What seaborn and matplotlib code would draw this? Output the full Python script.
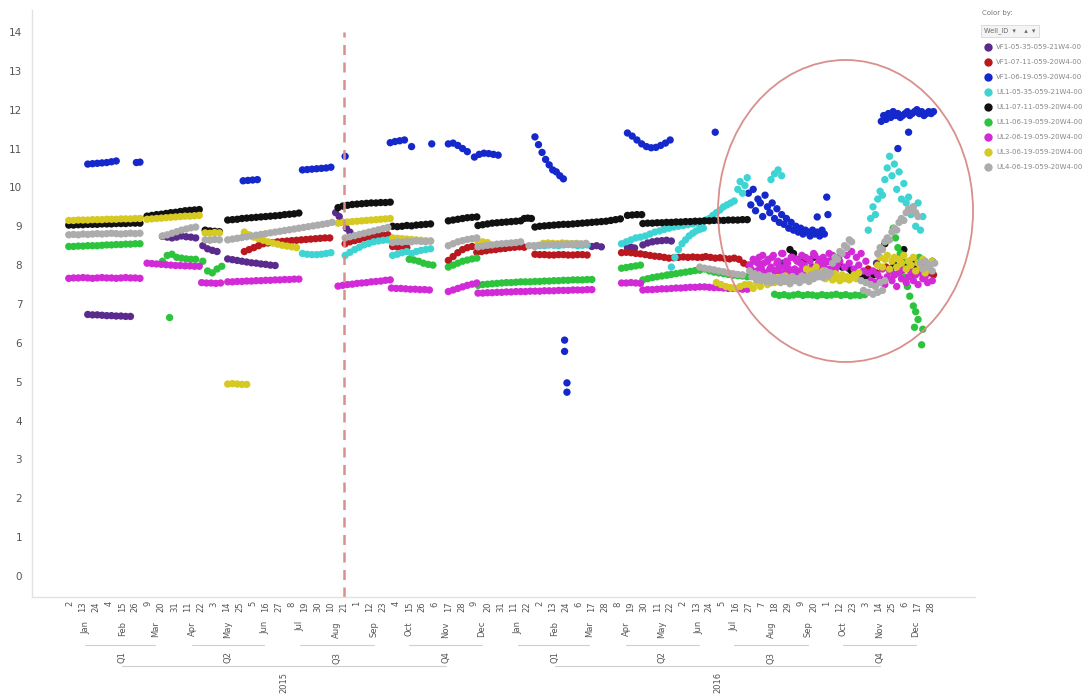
import pandas as pd
import matplotlib
matplotlib.use("Agg")
import matplotlib.pyplot as plt
import matplotlib.dates as mdates
from matplotlib.lines import Line2D
from matplotlib.patches import Ellipse, FancyBboxPatch
import seaborn as sns

# ---------------------------------------------------------------- wells
WELLS = [
    "VF1-05-35-059-21W4-00", "VF1-07-11-059-20W4-00", "VF1-06-19-059-20W4-00",
    "UL1-05-35-059-21W4-00", "UL1-07-11-059-20W4-00", "UL1-06-19-059-20W4-00",
    "UL2-06-19-059-20W4-00", "UL3-06-19-059-20W4-00", "UL4-06-19-059-20W4-00",
]
COLORS = ["#5a2a8c", "#b8181e", "#1428cc", "#3fd4d4", "#111111",
          "#2cc43c", "#d22ad6", "#d6c922", "#acacac"]

# Readings: runs of (first day, spacing in days, values) plus single points
VF1_05_RUNS = [
    ("2015-01-17", 4, [6.73, 6.72, 6.72, 6.71, 6.70, 6.70, 6.69, 6.69, 6.68, 6.68]),
    ("2015-03-21", 4, [8.74, 8.72, 8.70, 8.72, 8.75, 8.73, 8.72, 8.70]),
    ("2015-04-24", 4, [8.50, 8.42, 8.38, 8.35]),
    ("2015-05-15", 4, [8.16, 8.14, 8.12, 8.10, 8.08, 8.06, 8.05, 8.03, 8.02, 8.00, 7.99]),
    ("2015-08-14", 3, [9.35, 9.25, 9.10, 8.95, 8.85]),
    ("2016-03-17", 4, [8.48, 8.50, 8.47]),
    ("2016-04-16", 3, [8.45, 8.46, 8.44]),
    ("2016-04-29", 4, [8.52, 8.57, 8.60, 8.62, 8.63, 8.64, 8.62]),
]
VF1_05_POINTS = [("2016-08-25", 8.05), ("2016-09-06", 8.15), ("2016-09-19", 7.95),
                 ("2016-10-03", 8.10), ("2016-10-20", 7.90), ("2016-11-12", 8.05),
                 ("2016-11-26", 7.95), ("2016-12-10", 8.10), ("2016-12-22", 7.85)]

VF1_07_RUNS = [
    ("2015-05-29", 4, [8.35, 8.40, 8.45, 8.50, 8.55, 8.57, 8.58, 8.60, 8.61, 8.62,
                       8.63, 8.64, 8.65, 8.66, 8.67, 8.68, 8.69, 8.70, 8.70]),
    ("2015-08-22", 4, [8.55, 8.60, 8.63, 8.66, 8.70, 8.72, 8.74, 8.76, 8.77, 8.78]),
    ("2015-10-01", 4, [8.48, 8.47, 8.46, 8.45]),
    ("2015-11-17", 4, [8.12, 8.22, 8.32, 8.40, 8.45, 8.48]),
    ("2015-12-11", 4, [8.33, 8.35, 8.37, 8.39, 8.40, 8.42, 8.43, 8.45, 8.46, 8.47, 8.46]),
    ("2016-01-29", 4, [8.28, 8.27, 8.27, 8.26, 8.26, 8.27, 8.27, 8.26, 8.26, 8.27, 8.27, 8.26]),
    ("2016-04-11", 4, [8.32, 8.33, 8.32, 8.30, 8.29, 8.27, 8.25, 8.23, 8.22, 8.20,
                       8.18, 8.19, 8.20, 8.21, 8.20, 8.21, 8.20, 8.20]),
    ("2016-06-21", 4, [8.22, 8.20, 8.18, 8.19, 8.17, 8.16, 8.18, 8.15, 8.05, 8.00]),
]
VF1_07_POINTS = [("2016-11-05", 7.90), ("2016-11-12", 7.80), ("2016-11-20", 7.95),
                 ("2016-11-27", 7.75), ("2016-12-03", 7.85), ("2016-12-09", 7.90),
                 ("2016-12-14", 7.75), ("2016-12-18", 7.85), ("2016-12-22", 7.70),
                 ("2016-12-26", 7.80), ("2016-12-30", 7.75)]

VF1_06_RUNS = [
    ("2015-01-17", 4, [10.60, 10.61, 10.62, 10.63, 10.64, 10.66, 10.68]),
    ("2015-02-27", 3, [10.64, 10.65]),
    ("2015-05-28", 4, [10.17, 10.18, 10.19, 10.20]),
    ("2015-07-17", 4, [10.45, 10.46, 10.47, 10.48, 10.49, 10.50, 10.52]),
    ("2015-09-29", 4, [11.15, 11.18, 11.20, 11.22]),
    ("2015-11-17", 4, [11.12, 11.14, 11.08, 11.00, 10.92]),
    ("2015-12-09", 4, [10.78, 10.85, 10.88, 10.87, 10.85, 10.83]),
    ("2016-01-29", 3, [11.30, 11.10, 10.90, 10.72, 10.58, 10.45, 10.40, 10.30, 10.22]),
    ("2016-04-16", 4, [11.40, 11.32, 11.22, 11.12, 11.05, 11.02, 11.03, 11.08, 11.14, 11.22]),
    ("2016-07-27", 2, [9.85, 9.55, 9.95, 9.40, 9.70, 9.60, 9.25, 9.80, 9.50, 9.35, 9.60,
                       9.20, 9.45, 9.10, 9.30, 9.05, 9.20, 8.95, 9.10, 8.90, 9.00, 8.85,
                       8.95, 8.80, 8.90, 8.85, 8.75, 8.90, 8.80, 8.85, 8.75, 8.90, 8.80]),
    ("2016-11-16", 2, [11.70, 11.85, 11.75, 11.90, 11.80, 11.95, 11.85, 11.90, 11.80,
                       11.85, 11.90, 11.95, 11.85, 11.90, 11.95, 12.00, 11.90, 11.95,
                       11.85, 11.90, 11.95, 11.90, 11.95]),
]
VF1_06_POINTS = [("2015-08-22", 10.80), ("2015-10-17", 11.05), ("2015-11-03", 11.12),
                 ("2016-02-23", 6.07), ("2016-02-23", 5.78), ("2016-02-25", 4.97),
                 ("2016-02-25", 4.73), ("2016-06-29", 11.42), ("2016-09-23", 9.24),
                 ("2016-10-01", 9.75), ("2016-10-02", 9.30), ("2016-11-30", 11.00),
                 ("2016-12-09", 11.42)]

UL1_05_RUNS = [
    ("2015-07-17", 4, [8.30, 8.28, 8.27, 8.27, 8.28, 8.30, 8.32]),
    ("2015-08-22", 4, [8.25, 8.33, 8.40, 8.46, 8.52, 8.56, 8.60, 8.62, 8.64, 8.65]),
    ("2015-10-01", 4, [8.25, 8.28, 8.32, 8.35, 8.30, 8.35, 8.38, 8.40, 8.42]),
    ("2016-01-29", 4, [8.48, 8.50, 8.50, 8.52, 8.51, 8.50, 8.52, 8.53, 8.52, 8.50, 8.51, 8.52]),
    ("2016-04-11", 4, [8.55, 8.60, 8.65, 8.70, 8.72, 8.75, 8.80, 8.85, 8.88, 8.92,
                       8.95, 8.98, 9.00, 9.02, 9.04, 9.06, 9.08, 9.10]),
    ("2016-05-20", 3, [7.75, 7.95, 8.20, 8.40, 8.55, 8.65, 8.75, 8.82, 8.88, 8.92, 8.95]),
    ("2016-06-18", 3, [9.12, 9.16, 9.20, 9.28, 9.35, 9.42, 9.50, 9.55, 9.60, 9.65]),
    ("2016-11-05", 2, [8.90, 9.20, 9.50, 9.30, 9.70, 9.90, 9.80, 10.20, 10.50, 10.80,
                       10.30, 10.60, 9.95, 10.40, 9.70, 10.10, 9.60, 9.75, 9.30, 9.50,
                       9.00, 9.60, 8.90, 9.25]),
]
UL1_05_POINTS = [("2016-07-18", 9.95), ("2016-07-20", 10.15), ("2016-07-22", 9.85),
                 ("2016-07-24", 10.05), ("2016-07-26", 10.25), ("2016-08-15", 10.20),
                 ("2016-08-18", 10.35), ("2016-08-21", 10.45), ("2016-08-24", 10.30)]

UL1_07_RUNS = [
    ("2015-01-01", 4, [9.03, 9.03, 9.04, 9.04, 9.05, 9.05, 9.05, 9.06, 9.06, 9.06,
                       9.07, 9.07, 9.07, 9.08, 9.08, 9.08]),
    ("2015-03-08", 4, [9.26, 9.28, 9.30, 9.31, 9.33, 9.35, 9.36, 9.38, 9.40, 9.41, 9.42, 9.43]),
    ("2015-04-26", 4, [8.90, 8.88, 8.87, 8.86]),
    ("2015-05-15", 4, [9.16, 9.17, 9.18, 9.20, 9.21, 9.22, 9.23, 9.24, 9.25, 9.26,
                       9.27, 9.28, 9.30, 9.31, 9.32, 9.34]),
    ("2015-08-16", 4, [9.48, 9.52, 9.54, 9.56, 9.57, 9.58, 9.59, 9.60, 9.60, 9.61, 9.61, 9.62]),
    ("2015-10-01", 4, [9.00, 8.99, 9.00, 9.02, 9.01, 9.03, 9.04, 9.05, 9.06]),
    ("2015-11-17", 4, [9.14, 9.16, 9.18, 9.20, 9.22, 9.23, 9.24]),
    ("2015-12-12", 4, [9.02, 9.04, 9.06, 9.08, 9.09, 9.10, 9.11, 9.12, 9.13, 9.14]),
    ("2016-01-20", 3, [9.20, 9.21, 9.20]),
    ("2016-01-29", 4, [8.98, 9.00, 9.01, 9.02, 9.03, 9.04, 9.05, 9.05, 9.06, 9.07,
                       9.08, 9.09, 9.10, 9.11, 9.12, 9.13, 9.15, 9.17, 9.19]),
    ("2016-04-16", 4, [9.28, 9.29, 9.30, 9.30]),
    ("2016-04-29", 4, [9.07, 9.08, 9.08, 9.09, 9.09, 9.10, 9.10, 9.11, 9.11, 9.12, 9.12,
                       9.13, 9.13, 9.14, 9.14, 9.15, 9.15, 9.15, 9.16, 9.16, 9.16, 9.17, 9.17]),
]
UL1_07_POINTS = [("2016-08-31", 8.40), ("2016-09-03", 8.30), ("2016-09-12", 8.10),
                 ("2016-09-20", 8.20), ("2016-09-28", 8.00), ("2016-10-06", 7.90),
                 ("2016-10-14", 7.95), ("2016-10-22", 7.85), ("2016-10-30", 7.75),
                 ("2016-11-03", 7.70), ("2016-11-07", 7.80), ("2016-11-10", 7.75),
                 ("2016-11-19", 8.55), ("2016-11-23", 7.90), ("2016-11-27", 8.00),
                 ("2016-12-05", 8.40), ("2016-12-07", 7.95), ("2016-12-11", 8.10),
                 ("2016-12-14", 7.90), ("2016-12-17", 8.05), ("2016-12-20", 7.85),
                 ("2016-12-23", 8.00), ("2016-12-26", 7.90), ("2016-12-29", 8.10)]

UL1_06_RUNS = [
    ("2015-01-01", 4, [8.48, 8.48, 8.49, 8.49, 8.50, 8.50, 8.50, 8.51, 8.52, 8.52,
                       8.53, 8.53, 8.54, 8.54, 8.55, 8.55]),
    ("2015-03-21", 4, [8.10, 8.25, 8.28, 8.20, 8.18, 8.16, 8.15, 8.15]),
    ("2015-04-24", 4, [8.10, 7.85, 7.80, 7.90, 7.97]),
    ("2015-10-15", 4, [8.15, 8.13, 8.10, 8.05, 8.02, 8.00]),
    ("2015-11-17", 4, [7.95, 8.00, 8.05, 8.10, 8.13, 8.16, 8.18]),
    ("2015-12-12", 4, [7.48, 7.50, 7.51, 7.52, 7.53, 7.54, 7.55, 7.55, 7.56, 7.57, 7.57,
                       7.57, 7.58, 7.58, 7.59, 7.59, 7.60, 7.60, 7.61, 7.61, 7.62, 7.62,
                       7.62, 7.63, 7.63]),
    ("2016-04-11", 4, [7.92, 7.94, 7.96, 7.98, 8.00]),
    ("2016-04-29", 4, [7.62, 7.65, 7.68, 7.70, 7.72, 7.74, 7.76, 7.78, 7.80, 7.82,
                       7.84, 7.86, 7.87]),
    ("2016-06-20", 4, [7.90, 7.85, 7.82, 7.80, 7.78, 7.76, 7.74, 7.73, 7.72, 7.70]),
    ("2016-08-18", 4, [7.25, 7.22, 7.24, 7.21, 7.23, 7.25, 7.22, 7.24, 7.23, 7.21,
                       7.24, 7.22, 7.23, 7.25, 7.22, 7.24, 7.21, 7.23, 7.22, 7.24]),
]
UL1_06_POINTS = [("2015-03-27", 6.65),
                 ("2016-11-26", 8.95), ("2016-11-28", 8.70), ("2016-11-30", 8.45),
                 ("2016-12-02", 8.30), ("2016-12-04", 8.10), ("2016-12-05", 7.70),
                 ("2016-12-08", 7.45), ("2016-12-10", 7.20), ("2016-12-13", 6.95),
                 ("2016-12-15", 6.80), ("2016-12-17", 6.60), ("2016-12-14", 6.40),
                 ("2016-12-21", 6.35), ("2016-12-20", 5.95), ("2016-12-10", 8.05),
                 ("2016-12-18", 8.20), ("2016-12-25", 8.00)]

UL2_RUNS = [
    ("2015-01-01", 4, [7.66, 7.67, 7.67, 7.68, 7.67, 7.66, 7.67, 7.68, 7.67, 7.67,
                       7.66, 7.67, 7.68, 7.67, 7.67, 7.66]),
    ("2015-03-08", 4, [8.05, 8.04, 8.03, 8.02, 8.01, 8.00, 7.99, 7.99, 7.98, 7.98, 7.97, 7.97]),
    ("2015-04-23", 4, [7.55, 7.54, 7.54, 7.53, 7.54]),
    ("2015-05-15", 4, [7.57, 7.57, 7.58, 7.58, 7.59, 7.59, 7.60, 7.60, 7.61, 7.61,
                       7.62, 7.62, 7.63, 7.63, 7.64, 7.64]),
    ("2015-08-16", 4, [7.46, 7.48, 7.50, 7.51, 7.53, 7.54, 7.55, 7.57, 7.58, 7.59, 7.61, 7.62]),
    ("2015-09-30", 4, [7.41, 7.40, 7.40, 7.39, 7.38, 7.38, 7.37, 7.37, 7.36]),
    ("2015-11-17", 4, [7.32, 7.36, 7.40, 7.44, 7.48, 7.51, 7.54]),
    ("2015-12-12", 4, [7.28, 7.28, 7.29, 7.29, 7.30, 7.30, 7.31, 7.31, 7.32, 7.32, 7.32,
                       7.33, 7.33, 7.33, 7.34, 7.34, 7.34, 7.35, 7.35, 7.35, 7.36, 7.36,
                       7.36, 7.37, 7.37]),
    ("2016-04-11", 4, [7.54, 7.54, 7.55, 7.54, 7.53]),
    ("2016-04-29", 4, [7.36, 7.37, 7.37, 7.38, 7.39, 7.39, 7.40, 7.41, 7.41, 7.42,
                       7.43, 7.43, 7.44]),
    ("2016-06-20", 4, [7.44, 7.43, 7.42, 7.42, 7.41, 7.40, 7.40, 7.39, 7.38, 7.38]),
    ("2016-07-28", 2, [8.00, 7.80, 8.10, 7.85, 8.20, 7.90, 8.05, 7.75, 8.15, 7.95, 8.25,
                       7.85, 8.10, 7.80, 8.30, 7.95, 8.05, 7.75, 8.20, 7.90, 8.10, 7.85,
                       8.25, 8.00, 7.80, 8.15, 7.90, 8.30, 7.85, 8.05, 7.95, 8.20, 7.80,
                       8.10, 7.90, 8.25, 7.85, 8.00]),
    ("2016-07-29", 2, [7.90, 8.15, 7.75, 8.05, 7.95, 8.25, 7.80, 8.10, 7.90, 8.20, 7.85,
                       8.05, 7.95, 8.30, 7.80, 8.10, 7.90, 8.20, 7.85, 8.15, 7.75, 8.05,
                       7.95, 8.20, 7.90, 8.10, 7.80, 8.25, 7.95, 8.15, 7.85, 8.05, 7.90,
                       8.30, 7.80, 8.10, 7.95, 8.20]),
    ("2016-10-12", 2, [8.10, 8.30, 7.95, 8.25, 8.05, 8.35, 7.90, 8.20, 8.00, 8.30, 7.85, 8.10]),
    ("2016-11-05", 2, [7.80, 7.60, 7.85, 7.55, 7.75, 7.65, 7.90, 7.50, 7.70, 7.85, 7.60,
                       7.75, 7.45, 7.80, 7.65, 7.90, 7.55, 7.70, 7.85, 7.60, 7.75, 7.50,
                       7.80, 7.65, 7.70, 7.55, 7.85, 7.60]),
]

UL3_RUNS = [
    ("2015-01-01", 4, [9.15, 9.15, 9.16, 9.16, 9.16, 9.17, 9.17, 9.17, 9.18, 9.18,
                       9.18, 9.19, 9.19, 9.19, 9.20, 9.20]),
    ("2015-03-08", 4, [9.18, 9.19, 9.20, 9.21, 9.22, 9.23, 9.24, 9.25, 9.26, 9.26, 9.27, 9.28]),
    ("2015-04-26", 4, [8.83, 8.82, 8.84, 8.83]),
    ("2015-05-15", 4, [4.94, 4.95, 4.94, 4.93, 4.93]),
    ("2015-05-29", 4, [8.85, 8.78, 8.72, 8.68, 8.64, 8.60, 8.57, 8.54, 8.51, 8.49, 8.47, 8.45]),
    ("2015-08-16", 4, [9.08, 9.10, 9.11, 9.12, 9.13, 9.14, 9.15, 9.16, 9.17, 9.18, 9.19, 9.20]),
    ("2015-10-01", 4, [8.70, 8.69, 8.68, 8.67, 8.66, 8.65, 8.64, 8.63, 8.62]),
    ("2015-12-12", 4, [8.60, 8.60, 8.58]),
    ("2016-02-05", 4, [8.56, 8.57, 8.56, 8.55, 8.57, 8.56, 8.55, 8.56]),
    ("2016-06-30", 4, [7.55, 7.50, 7.45, 7.42, 7.40, 7.45, 7.50]),
    ("2016-07-28", 3, [7.50, 7.40, 7.55, 7.45, 7.60, 7.50, 7.62, 7.55, 7.68, 7.58, 7.72,
                       7.62, 7.70]),
    ("2016-09-14", 2, [7.90, 7.75, 7.85, 7.70, 7.95, 7.80, 7.72, 7.85, 7.65, 7.80, 7.70,
                       7.62, 7.78, 7.68, 7.60, 7.75, 7.65, 7.70, 7.62, 7.68, 7.75, 7.65, 7.80]),
    ("2016-11-13", 2, [8.00, 8.20, 7.95, 8.15, 8.25, 7.90, 8.10, 8.20, 7.95, 8.15, 8.05,
                       8.25, 7.90, 8.10, 8.00, 8.20, 7.85, 8.05, 7.95, 8.15, 7.80, 8.00,
                       7.90, 8.10]),
]

UL4_RUNS = [
    ("2015-01-01", 4, [8.78, 8.79, 8.78, 8.80, 8.79, 8.80, 8.81, 8.80, 8.81, 8.82,
                       8.81, 8.80, 8.81, 8.82, 8.81, 8.82]),
    ("2015-03-21", 4, [8.75, 8.78, 8.82, 8.86, 8.90, 8.93, 8.96, 8.98]),
    ("2015-04-26", 4, [8.65, 8.64, 8.66, 8.65]),
    ("2015-05-15", 4, [8.65, 8.67, 8.69, 8.71, 8.73, 8.75, 8.77, 8.79, 8.81, 8.83, 8.85,
                       8.87, 8.89, 8.91, 8.93, 8.95, 8.97, 8.99, 9.01, 9.03, 9.05, 9.07, 9.10]),
    ("2015-08-22", 4, [8.70, 8.73, 8.76, 8.79, 8.82, 8.85, 8.88, 8.91, 8.94, 8.97]),
    ("2015-10-01", 4, [8.58, 8.60, 8.59, 8.61, 8.60, 8.62, 8.61, 8.60, 8.62]),
    ("2015-11-17", 4, [8.50, 8.55, 8.60, 8.63, 8.66, 8.68, 8.70]),
    ("2015-12-12", 4, [8.47, 8.49, 8.51, 8.52, 8.54, 8.55, 8.56, 8.57, 8.58, 8.60]),
    ("2016-01-24", 4, [8.50, 8.50, 8.51, 8.52, 8.52, 8.53, 8.53, 8.54, 8.54, 8.55,
                       8.55, 8.55, 8.56]),
    ("2016-06-16", 4, [7.95, 7.92, 7.90, 7.88, 7.85, 7.83, 7.80, 7.78, 7.76, 7.75]),
    ("2016-07-28", 2, [7.85, 7.70, 7.78, 7.62, 7.75, 7.60, 7.70, 7.58, 7.72, 7.55, 7.68,
                       7.60, 7.65, 7.55, 7.70, 7.58, 7.66, 7.52, 7.70, 7.60, 7.65, 7.55,
                       7.72, 7.62, 7.68, 7.58, 7.75, 7.65, 7.80, 7.70, 7.78, 7.68, 7.85,
                       7.72, 7.80]),
    ("2016-10-06", 2, [8.05, 8.20, 8.15, 8.35, 8.30, 8.50, 8.45, 8.65, 8.60]),
    ("2016-10-30", 2, [7.60, 7.35, 7.55, 7.30, 7.50, 7.25, 7.45, 7.30, 7.55, 7.35, 7.60]),
    ("2016-11-13", 2, [8.30, 8.45, 8.40, 8.60, 8.70, 8.65, 8.85, 8.95, 8.90, 9.10, 9.20,
                       9.15, 9.35, 9.45, 9.40, 9.50, 9.35, 9.25]),
    ("2016-12-19", 2, [8.05, 7.90, 8.10, 7.95, 8.00, 7.85, 8.05]),
]

SERIES = {
    WELLS[0]: (VF1_05_RUNS, VF1_05_POINTS),
    WELLS[1]: (VF1_07_RUNS, VF1_07_POINTS),
    WELLS[2]: (VF1_06_RUNS, VF1_06_POINTS),
    WELLS[3]: (UL1_05_RUNS, UL1_05_POINTS),
    WELLS[4]: (UL1_07_RUNS, UL1_07_POINTS),
    WELLS[5]: (UL1_06_RUNS, UL1_06_POINTS),
    WELLS[6]: (UL2_RUNS, []),
    WELLS[7]: (UL3_RUNS, []),
    WELLS[8]: (UL4_RUNS, []),
}

# Day ticks of the hierarchical date axis
DAY_TICKS = pd.date_range("2015-01-02", "2016-12-28", freq="11D")
MONTHS = pd.date_range("2015-01-01", "2016-12-01", freq="MS")
YEARS = [2015, 2016]
MARKED_DATE = "2015-08-21"

# ------------------------------------------------------------ frame
frames = []
for well in WELLS:
    runs, points = SERIES[well]
    for start, step, vals in runs:
        frames.append(pd.DataFrame({
            "date": pd.date_range(start, periods=len(vals), freq=f"{step}D"),
            "value": vals, "well": well}))
    if points:
        frames.append(pd.DataFrame({
            "date": pd.to_datetime([p[0] for p in points]),
            "value": [p[1] for p in points], "well": well}))
df = pd.concat(frames, ignore_index=True)

# ------------------------------------------------------------ figure
sns.set_theme(style="white")
plt.rcParams["font.family"] = ["DejaVu Sans"]
fig = plt.figure(figsize=(10.92, 6.94), dpi=100)
ax = fig.add_axes([32 / 1092, 97 / 694, 943 / 1092, 587 / 694])

sns.scatterplot(data=df, x="date", y="value", hue="well", hue_order=WELLS,
                palette=COLORS, s=28, linewidth=0, alpha=1.0, legend=False, ax=ax)

ax.set_xlim(pd.Timestamp("2014-12-01"), pd.Timestamp("2017-02-03"))
ax.set_ylim(-0.54, 14.565)
ax.set_xlabel("")
ax.set_ylabel("")

ax.set_yticks(range(0, 15))
ax.tick_params(axis="y", length=0, pad=7, labelsize=7.5, labelcolor="#555555")
ax.set_xticks(mdates.date2num(DAY_TICKS))
ax.set_xticklabels([str(d.day) for d in DAY_TICKS], rotation=90)
ax.tick_params(axis="x", length=0, pad=3, labelsize=6, labelcolor="#555555")

for side in ["top", "right"]:
    ax.spines[side].set_visible(False)
for side in ["left", "bottom"]:
    ax.spines[side].set_color("#e2e2e2")
    ax.spines[side].set_linewidth(1.0)

# marker line
mx = mdates.date2num(pd.Timestamp(MARKED_DATE))
ax.vlines(mx, -0.54, 14.0, colors="#d9908c", linestyles=(0, (4, 3)), linewidth=1.8)

# highlight ring
ax.add_patch(Ellipse((0.8627, 0.6576), 0.2704, 0.5145, transform=ax.transAxes,
                     fill=False, edgecolor="#d98f8c", linewidth=1.3, clip_on=False))

# hierarchical axis: months / quarters / years
tr = ax.get_xaxis_transform()
txt = dict(rotation=90, ha="center", va="top", fontsize=6, color="#555555",
           transform=tr, clip_on=False)
for m in MONTHS:
    ax.text(mdates.date2num(m + pd.Timedelta(days=14)), -0.041, m.strftime("%b"), **txt)
for y in YEARS:
    for q in range(4):
        first = pd.Timestamp(y, 3 * q + 1, 15)
        mid = pd.Timestamp(y, 3 * q + 2, 15)
        last = pd.Timestamp(y, 3 * q + 3, 15)
        ax.plot(mdates.date2num([first, last]), [-0.082, -0.082], color="#cfcfcf",
                lw=0.8, transform=tr, clip_on=False)
        ax.text(mdates.date2num(mid), -0.093, f"Q{q + 1}", **txt)
    ax.plot(mdates.date2num([pd.Timestamp(y, 2, 15), pd.Timestamp(y, 11, 15)]),
            [-0.118, -0.118], color="#cfcfcf", lw=0.8, transform=tr, clip_on=False)
    ax.text(mdates.date2num(pd.Timestamp(y, 7, 1)), -0.127, str(y), **txt)

# colour-by legend panel
W, H = 1092, 694
fig.text(982 / W, 1 - 13 / H, "Color by:", fontsize=5, color="#777777", va="center")
fig.add_artist(FancyBboxPatch((981 / W, 1 - 37 / H), 58 / W, 12 / H,
                              boxstyle="square,pad=0", transform=fig.transFigure,
                              facecolor="#f4f4f4", edgecolor="#d8d8d8", linewidth=0.6))
fig.text(984 / W, 1 - 31 / H, "Well_ID  \u25be    \u25b4  \u25be", fontsize=4.8,
         color="#666666", va="center")
for i, (well, col) in enumerate(zip(WELLS, COLORS)):
    yy = 1 - (47 + 15 * i) / H
    fig.add_artist(Line2D([988 / W], [yy], marker="o", markersize=6, color=col,
                          markeredgewidth=0, linestyle="none", transform=fig.transFigure))
    fig.text(996 / W, yy, well, fontsize=5, color="#888888", va="center")

fig.savefig("out.png", dpi=100)
